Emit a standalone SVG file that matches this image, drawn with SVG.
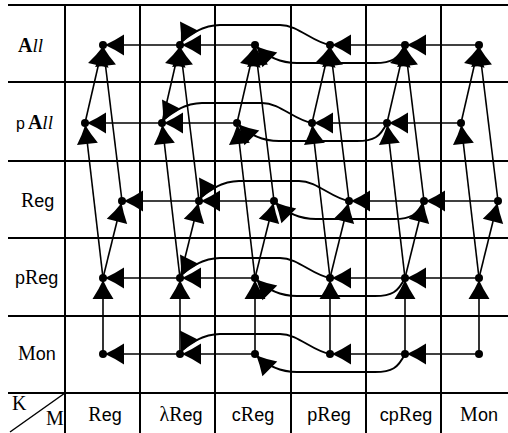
<svg xmlns="http://www.w3.org/2000/svg" width="508" height="433" viewBox="0 0 508 433">
<style>
.grid{stroke:#000;stroke-width:2;fill:none}
.e{stroke:#000;stroke-width:1.6;fill:none;marker-end:url(#ah)}
.c{stroke:#000;stroke-width:1.9;fill:none;marker-end:url(#ah)}
.dot{fill:#000}
.lab{font-family:"Liberation Sans",Arial,sans-serif;font-size:18px;fill:#000}
.cap{font-family:"Liberation Serif","Times New Roman",serif;font-size:20px}
.it{font-family:"Liberation Serif","Times New Roman",serif;font-style:italic;font-size:19px}
</style>
<defs>
<marker id="ah" viewBox="-22 -13 26 26" markerWidth="26" markerHeight="26" refX="2" refY="0" orient="auto" markerUnits="userSpaceOnUse">
<path d="M0,0 Q-9,-4 -19,-10.5 L-19,10.5 Q-9,4 0,0 Z" fill="#000"/>
</marker>
</defs>
<rect width="508" height="433" fill="#fff"/>
<g id="grid" class="grid">
<path d="M8,5H508M8,82H508M8,161H508M8,238H508M8,316H508M8,393H508"/>
<path d="M65,5V433M140,5V433M215,5V433M291,5V433M366,5V433M441,5V433"/>
<path d="M10,432L65,393" stroke-width="1.5"/>
</g>
<g id="labels" class="lab">
<text x="18" y="52"><tspan class="cap" font-weight="bold">A</tspan><tspan class="it">ll</tspan></text>
<text x="16" y="129" font-size="16">p<tspan class="cap" font-weight="bold" dx="3">A</tspan><tspan class="it">ll</tspan></text>
<text x="21" y="207"><tspan class="cap">R</tspan>eg</text>
<text x="15" y="284">p<tspan class="cap">R</tspan>eg</text>
<text x="18" y="360"><tspan class="cap">M</tspan>on</text>
<text x="12" y="410" class="cap" font-size="17">K</text>
<text x="46" y="425" class="cap" font-size="18">M</text>
<text x="105" y="421" text-anchor="middle"><tspan class="cap">R</tspan>eg</text>
<text x="181" y="421" text-anchor="middle"><tspan class="cap">λR</tspan>eg</text>
<text x="253" y="421" text-anchor="middle">c<tspan class="cap">R</tspan>eg</text>
<text x="329" y="421" text-anchor="middle">p<tspan class="cap">R</tspan>eg</text>
<text x="406" y="421" text-anchor="middle">cp<tspan class="cap">R</tspan>eg</text>
<text x="479" y="421" text-anchor="middle"><tspan class="cap">M</tspan>on</text>
</g>
<g id="connectors">
<!-- row All -->
<path class="e" d="M180,45L103,45"/>
<path class="e" d="M255,45L180,45"/>
<path class="e" d="M405,45L330,45"/>
<path class="e" d="M479,45L405,45"/>
<path class="c" d="M330,45C312,42 298,25 280,25L220,25C205,25 185,35 180,45"/>
<path class="c" d="M405,45C398,59 392,63 375,63L297,63C280,63 267,57 255,45"/>
<!-- row pAll -->
<path class="e" d="M162,123L85,123"/>
<path class="e" d="M237,123L162,123"/>
<path class="e" d="M387,123L312,123"/>
<path class="e" d="M461,123L387,123"/>
<path class="c" d="M312,123C294,120 280,103 262,103L202,103C187,103 167,113 162,123"/>
<path class="c" d="M387,123C380,137 374,141 357,141L279,141C262,141 249,135 237,123"/>
<!-- row Reg -->
<path class="e" d="M199,201L122,201"/>
<path class="e" d="M274,201L199,201"/>
<path class="e" d="M424,201L349,201"/>
<path class="e" d="M498,201L424,201"/>
<path class="c" d="M349,201C331,198 317,181 299,181L239,181C224,181 204,191 199,201"/>
<path class="c" d="M424,201C417,215 411,219 394,219L316,219C299,219 286,213 274,201"/>
<!-- row pReg -->
<path class="e" d="M180,278L103,278"/>
<path class="e" d="M255,278L180,278"/>
<path class="e" d="M405,278L330,278"/>
<path class="e" d="M479,278L405,278"/>
<path class="c" d="M330,278C312,275 298,258 280,258L220,258C205,258 185,268 180,278"/>
<path class="c" d="M405,278C398,292 392,296 375,296L297,296C280,296 267,290 255,278"/>
<!-- row Mon -->
<path class="e" d="M180,354L103,354"/>
<path class="e" d="M255,354L180,354"/>
<path class="e" d="M405,354L330,354"/>
<path class="e" d="M479,354L405,354"/>
<path class="c" d="M330,354C312,351 298,334 280,334L220,334C205,334 185,344 180,354"/>
<path class="c" d="M405,354C398,368 392,372 375,372L297,372C280,372 267,366 255,354"/>
<!-- column Reg -->
<path class="e" d="M85,123L103,45"/>
<path class="e" d="M122,201L103,45"/>
<path class="e" d="M103,278L85,123"/>
<path class="e" d="M103,278L122,201"/>
<path class="e" d="M103,354L103,278"/>
<!-- column lambdaReg -->
<path class="e" d="M162,123L180,45"/>
<path class="e" d="M199,201L180,45"/>
<path class="e" d="M180,278L162,123"/>
<path class="e" d="M180,278L199,201"/>
<path class="e" d="M180,354L180,278"/>
<!-- column cReg -->
<path class="e" d="M237,123L255,45"/>
<path class="e" d="M274,201L255,45"/>
<path class="e" d="M255,278L237,123"/>
<path class="e" d="M255,278L274,201"/>
<path class="e" d="M255,354L255,278"/>
<!-- column pReg -->
<path class="e" d="M312,123L330,45"/>
<path class="e" d="M349,201L330,45"/>
<path class="e" d="M330,278L312,123"/>
<path class="e" d="M330,278L349,201"/>
<path class="e" d="M330,354L330,278"/>
<!-- column cpReg -->
<path class="e" d="M387,123L405,45"/>
<path class="e" d="M424,201L405,45"/>
<path class="e" d="M405,278L387,123"/>
<path class="e" d="M405,278L424,201"/>
<path class="e" d="M405,354L405,278"/>
<!-- column Mon -->
<path class="e" d="M461,123L479,45"/>
<path class="e" d="M498,201L479,45"/>
<path class="e" d="M479,278L461,123"/>
<path class="e" d="M479,278L498,201"/>
<path class="e" d="M479,354L479,278"/>
</g>
<g id="nodes" class="dot">
<g id="n-All-Reg"><circle cx="103" cy="45" r="4"/></g>
<g id="n-All-lReg"><circle cx="180" cy="45" r="4"/></g>
<g id="n-All-cReg"><circle cx="255" cy="45" r="4"/></g>
<g id="n-All-pReg"><circle cx="330" cy="45" r="4"/></g>
<g id="n-All-cpReg"><circle cx="405" cy="45" r="4"/></g>
<g id="n-All-Mon"><circle cx="479" cy="45" r="4"/></g>
<g id="n-pAll-Reg"><circle cx="85" cy="123" r="4"/></g>
<g id="n-pAll-lReg"><circle cx="162" cy="123" r="4"/></g>
<g id="n-pAll-cReg"><circle cx="237" cy="123" r="4"/></g>
<g id="n-pAll-pReg"><circle cx="312" cy="123" r="4"/></g>
<g id="n-pAll-cpReg"><circle cx="387" cy="123" r="4"/></g>
<g id="n-pAll-Mon"><circle cx="461" cy="123" r="4"/></g>
<g id="n-Reg-Reg"><circle cx="122" cy="201" r="4"/></g>
<g id="n-Reg-lReg"><circle cx="199" cy="201" r="4"/></g>
<g id="n-Reg-cReg"><circle cx="274" cy="201" r="4"/></g>
<g id="n-Reg-pReg"><circle cx="349" cy="201" r="4"/></g>
<g id="n-Reg-cpReg"><circle cx="424" cy="201" r="4"/></g>
<g id="n-Reg-Mon"><circle cx="498" cy="201" r="4"/></g>
<g id="n-pReg-Reg"><circle cx="103" cy="278" r="4"/></g>
<g id="n-pReg-lReg"><circle cx="180" cy="278" r="4"/></g>
<g id="n-pReg-cReg"><circle cx="255" cy="278" r="4"/></g>
<g id="n-pReg-pReg"><circle cx="330" cy="278" r="4"/></g>
<g id="n-pReg-cpReg"><circle cx="405" cy="278" r="4"/></g>
<g id="n-pReg-Mon"><circle cx="479" cy="278" r="4"/></g>
<g id="n-Mon-Reg"><circle cx="103" cy="354" r="4"/></g>
<g id="n-Mon-lReg"><circle cx="180" cy="354" r="4"/></g>
<g id="n-Mon-cReg"><circle cx="255" cy="354" r="4"/></g>
<g id="n-Mon-pReg"><circle cx="330" cy="354" r="4"/></g>
<g id="n-Mon-cpReg"><circle cx="405" cy="354" r="4"/></g>
<g id="n-Mon-Mon"><circle cx="479" cy="354" r="4"/></g>
</g>
</svg>
